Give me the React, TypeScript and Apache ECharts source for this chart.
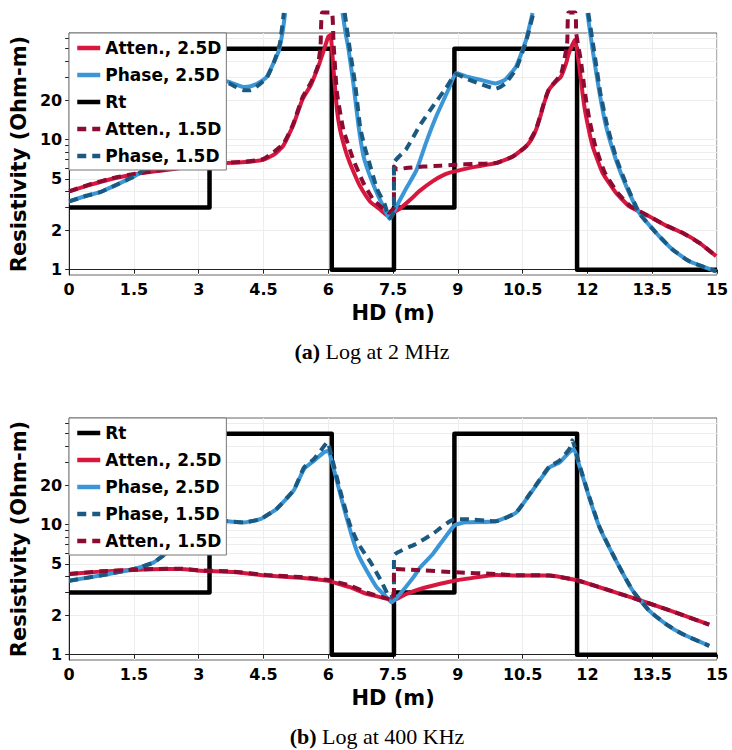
import React, { useEffect, useRef } from "react";
import * as echarts from "echarts";

// ---------- DATA ----------
// Layer boundaries (HD, m) and true resistivity Rt (Ohm-m)
const rtBounds = [0, 3.25, 6.08, 7.52, 8.92, 11.76, 15];
const rtValues = [3, 50, 1, 3, 50, 1];

const xTicks = [0, 1.5, 3, 4.5, 6, 7.5, 9, 10.5, 12, 13.5, 15];
const yLabelValues = [1, 2, 5, 10, 20];
const yGridValues = [1, 2, 3, 4, 5, 6, 7, 8, 9, 10, 20, 30, 40, 50, 60];

// (a) 2 MHz
const atten25_2MHz: (number | null)[][] = [
  [0, 4.0], [0.5, 4.5], [1.0, 5.0], [1.5, 5.4], [2.0, 5.7], [2.5, 6.0], [3.0, 6.3], [3.5, 6.6],
  [4.0, 6.7], [4.5, 7.0], [4.75, 7.7], [4.95, 8.9], [5.18, 12.7], [5.4, 20.3], [5.6, 26.5],
  [5.8, 39], [5.9, 49], [6.0, 62], [6.05, 64], [6.12, 35], [6.2, 17], [6.27, 12], [6.4, 8.2],
  [6.5, 6.6], [6.62, 5.3], [6.74, 4.35], [6.97, 3.33], [7.2, 2.9], [7.38, 2.6], [7.5, 2.75],
  [7.66, 2.95], [7.96, 3.6], [8.1, 4.0], [8.42, 4.8], [8.7, 5.4], [8.92, 5.7], [9.42, 6.2],
  [9.88, 6.6], [10.27, 7.4], [10.58, 8.9], [10.7, 10], [10.81, 11.9], [10.92, 15.5], [11.0, 19.2],
  [11.11, 24.2], [11.25, 27.5], [11.39, 30.6], [11.5, 38], [11.57, 46], [11.71, 58.5],
  [11.81, 36.7], [11.9, 21], [11.97, 15], [12.12, 8.9], [12.35, 5.56], [12.66, 3.9],
  [12.97, 3.07], [13.43, 2.57], [13.8, 2.2], [14.2, 1.92], [14.6, 1.6], [14.98, 1.27],
];
const phase25_2MHz: (number | null)[][] = [
  [0, 3.35], [0.4, 3.7], [0.72, 3.95], [1.1, 4.5], [1.5, 5.2], [1.75, 5.9], [2.0, 7.0], [2.4, 10],
  [2.8, 15], [3.1, 22], [3.3, 27], [3.43, 29], [3.66, 28], [4.04, 25.4], [4.2, 25.7], [4.4, 27.5],
  [4.58, 30.6], [4.72, 38], [4.86, 49], [4.95, 70], [5.0, 94], [5.05, null],
  [6.33, 94], [6.4, 66], [6.47, 49], [6.58, 27], [6.7, 12.7], [6.81, 7.6], [6.9, 6.0], [7.0, 4.9],
  [7.16, 3.66], [7.31, 2.9], [7.42, 2.45], [7.58, 3.07], [7.8, 4.2], [8.04, 5.8], [8.26, 9.4],
  [8.5, 15.1], [8.8, 25], [8.96, 32.5], [9.19, 30.6], [9.49, 29], [9.88, 27], [10.1, 29],
  [10.35, 36.6], [10.58, 58.5], [10.73, 94], [10.78, null],
  [12.0, 94], [12.12, 49], [12.28, 22.8], [12.43, 12.7], [12.66, 7.0], [12.9, 4.37],
  [13.2, 2.73], [13.59, 1.92], [13.97, 1.43], [14.36, 1.16], [14.98, 0.97],
];
const atten15_2MHz: (number | null)[][] = [
  [0, 4.0], [0.5, 4.55], [1.0, 5.05], [1.5, 5.45], [2.0, 5.75], [2.5, 6.05], [3.0, 6.35], [3.5, 6.6],
  [4.0, 6.75], [4.5, 7.1], [4.95, 9.2], [5.18, 13], [5.4, 21], [5.6, 27.5], [5.75, 36], [5.82, 52],
  [5.86, 95], [6.08, 95], [6.12, 56], [6.2, 23], [6.35, 11.9], [6.58, 7.0], [6.81, 4.66],
  [7.04, 3.46], [7.27, 2.95], [7.4, 2.75], [7.52, 3.0], [7.52, 6.2], [7.6, 5.9], [7.8, 6.05],
  [8.2, 6.2], [8.6, 6.3], [8.92, 6.4], [9.4, 6.5], [9.88, 6.6], [10.27, 7.4], [10.58, 8.9],
  [10.81, 12], [11.0, 19.5], [11.11, 24.5], [11.39, 32], [11.53, 55], [11.56, 95], [11.72, 95],
  [11.74, 66], [11.85, 40], [11.95, 22], [12.05, 14], [12.18, 9], [12.4, 5.6], [12.7, 3.9],
  [13.0, 3.07], [13.43, 2.57], [13.8, 2.2], [14.2, 1.92], [14.6, 1.6], [14.98, 1.27],
];
const phase15_2MHz: (number | null)[][] = [
  [0, 3.35], [0.4, 3.7], [0.72, 3.95], [1.1, 4.5], [1.5, 5.2], [1.75, 5.9], [2.0, 7.0], [2.4, 10],
  [2.8, 15], [3.1, 22], [3.3, 27], [3.43, 28.5], [3.7, 27], [4.04, 24], [4.2, 24], [4.4, 26.5],
  [4.58, 30], [4.75, 40], [4.88, 55], [4.97, 94], [5.02, null],
  [6.38, 94], [6.5, 49], [6.62, 27], [6.74, 12.3], [6.85, 8.6], [6.93, 7.0], [7.12, 4.25],
  [7.31, 3.16], [7.39, 2.57], [7.45, 2.5], [7.52, 2.9], [7.52, 6.6], [7.8, 8.4], [8.11, 12.7],
  [8.42, 18], [8.73, 25], [8.96, 32], [9.19, 29.5], [9.49, 27], [9.88, 24.6], [10.1, 27],
  [10.35, 35], [10.58, 57], [10.75, 94], [10.8, null],
  [12.02, 94], [12.15, 49], [12.3, 22.8], [12.46, 12.7], [12.68, 7.0], [12.92, 4.37],
  [13.2, 2.73], [13.59, 1.92], [13.97, 1.43], [14.36, 1.16], [14.98, 0.97],
];

// (b) 400 KHz
const atten25_400k: (number | null)[][] = [
  [0, 4.17], [0.72, 4.35], [1.5, 4.48], [1.95, 4.53], [2.57, 4.56], [3.03, 4.42], [3.8, 4.32],
  [4.57, 4.06], [5.35, 3.9], [6.0, 3.7], [6.12, 3.6], [6.5, 3.3], [6.89, 2.93], [7.28, 2.73],
  [7.51, 2.63], [7.81, 2.93], [8.13, 3.2], [8.5, 3.45], [8.92, 3.7], [9.42, 3.93], [9.88, 4.1],
  [10.35, 4.06], [11.12, 4.06], [11.73, 3.75], [12.28, 3.3], [13.05, 2.73], [13.82, 2.24],
  [14.82, 1.7],
];
const phase25_400k: (number | null)[][] = [
  [0, 3.7], [0.72, 4.06], [1.5, 4.56], [1.95, 5.1], [2.3, 6.2], [2.7, 7.8], [3.0, 9.2], [3.3, 10.4],
  [3.47, 10.85], [3.66, 10.6], [4.04, 10.4], [4.42, 11.0], [4.8, 13.2], [5.2, 18.3], [5.44, 26.8],
  [5.67, 31], [5.9, 36], [6.0, 37], [6.1, 29], [6.3, 16], [6.45, 10.5], [6.58, 7.5], [6.7, 5.8],
  [6.89, 4.42], [7.12, 3.3], [7.35, 2.76], [7.47, 2.52], [7.66, 2.93], [7.97, 3.93], [8.13, 4.7],
  [8.42, 5.95], [8.92, 9.85], [9.19, 10.4], [9.88, 10.6], [10.35, 12.4], [10.73, 18.3],
  [11.12, 27.5], [11.35, 30], [11.58, 36], [11.69, 38], [11.8, 29.3], [12.04, 16.2], [12.28, 9.5],
  [12.66, 5.3], [13.05, 3.1], [13.43, 2.18], [13.82, 1.72], [14.2, 1.44], [14.82, 1.17],
];
const phase15_400k: (number | null)[][] = [
  [0, 3.7], [0.72, 4.06], [1.5, 4.56], [1.95, 5.1], [2.3, 6.2], [2.7, 7.8], [3.0, 9.2], [3.3, 10.4],
  [3.47, 10.85], [3.66, 10.6], [4.04, 10.4], [4.42, 11.0], [4.8, 13.2], [5.2, 18.5], [5.44, 27.5],
  [5.67, 32], [5.9, 40], [5.98, 43], [6.1, 31], [6.3, 17], [6.5, 10], [6.7, 7.1], [7.0, 5.0],
  [7.24, 3.6], [7.43, 2.76], [7.52, 2.9], [7.52, 5.77], [8.03, 7.1], [8.42, 8.5], [8.92, 11],
  [9.19, 11], [9.88, 10.6], [10.35, 12.4], [10.73, 18.5], [11.12, 28], [11.35, 31], [11.58, 38],
  [11.65, 44.5], [11.8, 30], [12.04, 16.5], [12.28, 9.6], [12.66, 5.3], [13.05, 3.1],
  [13.43, 2.18], [13.82, 1.72], [14.2, 1.44], [14.82, 1.17],
];
const atten15_400k: (number | null)[][] = [
  [0, 4.17], [0.72, 4.37], [1.5, 4.5], [1.95, 4.55], [2.57, 4.58], [3.03, 4.45], [3.8, 4.35],
  [4.57, 4.1], [5.35, 3.95], [6.0, 3.75], [6.5, 3.4], [6.89, 3.0], [7.28, 2.75], [7.45, 2.65],
  [7.52, 2.75], [7.52, 4.56], [8.03, 4.48], [8.92, 4.3], [9.88, 4.17], [10.35, 4.08],
  [11.12, 4.06], [11.73, 3.75], [12.28, 3.3], [13.05, 2.73], [13.82, 2.24], [14.82, 1.7],
];

// ---------- STYLE ----------
const C_ATT25 = "#D8173F";
const C_PH25 = "#3A96D6";
const C_ATT15 = "#8C0B33";
const C_PH15 = "#1C5980";
const FONT = "DejaVu Sans";

const Y_MIN = Math.log10(0.91);
const Y_MAX = Math.log10(66);

const toLog = (pts: (number | null)[][]) =>
  pts.map(([x, y]) => [x, y == null ? "-" : Math.log10(y as number)]);

const stepPts = (b: number[], v: number[]) => {
  const out: number[][] = [];
  v.forEach((val, i) => {
    out.push([b[i], val]);
    out.push([b[i + 1], val]);
  });
  return out;
};

const line = (name: string, data: any[], gi: number, color: string, dashed: boolean, width = 4, smooth: any = 0.15) => ({
  type: "line",
  name,
  xAxisIndex: gi,
  yAxisIndex: gi,
  data,
  symbol: "none",
  smooth,
  clip: false,
  z: dashed ? 4 : 3,
  lineStyle: { color, width, type: dashed ? [9, 6] : "solid", cap: "butt", join: "round" },
  itemStyle: { color },
  emphasis: { disabled: true },
});

const gridTops = [33, 418];

const makeX = (gi: number) => ({
  type: "value",
  gridIndex: gi,
  min: 0,
  max: 15,
  interval: 1.5,
  name: "HD (m)",
  nameLocation: "middle",
  nameGap: 27,
  nameTextStyle: { fontFamily: FONT, fontWeight: "bold", fontSize: 21, color: "#000" },
  axisLine: { show: true, lineStyle: { color: "#222", width: 1 } },
  axisTick: { show: true, length: 4, lineStyle: { color: "#222" } },
  axisLabel: { fontFamily: FONT, fontWeight: "bold", fontSize: 16, color: "#000", margin: 6 },
  splitLine: { show: true, lineStyle: { color: "#ededed", width: 1 } },
});

const makeY = (gi: number) => ({
  type: "value",
  gridIndex: gi,
  min: Y_MIN,
  max: Y_MAX,
  name: "Resistivity (Ohm-m)",
  nameLocation: "middle",
  nameGap: 32,
  nameTextStyle: { fontFamily: FONT, fontWeight: "bold", fontSize: 21, color: "#000" },
  axisLine: { show: true, lineStyle: { color: "#222", width: 1 } },
  axisTick: {
    show: true,
    length: 4,
    lineStyle: { color: "#222" },
    customValues: yGridValues.map((v) => Math.log10(v)),
  },
  axisLabel: {
    fontFamily: FONT,
    fontWeight: "bold",
    fontSize: 16,
    color: "#000",
    margin: 7,
    customValues: yLabelValues.map((v) => Math.log10(v)),
    formatter: (v: number) => String(Math.round(Math.pow(10, v))),
  },
  splitLine: { show: true, lineStyle: { color: "#ededed", width: 1 } },
});

const makeLegend = (gi: number, names: string[]) => ({
  orient: "vertical",
  left: 69,
  top: gridTops[gi],
  data: names,
  backgroundColor: "#fff",
  borderColor: "#777",
  borderWidth: 1,
  borderRadius: 0,
  padding: [5, 5, 4, 6],
  itemGap: 7,
  itemWidth: 23,
  itemHeight: 14,
  selectedMode: false,
  itemStyle: { opacity: 0, borderWidth: 0 },
  lineStyle: { width: 4.5, cap: "butt" },
  textStyle: { fontFamily: FONT, fontWeight: "bold", fontSize: 17, color: "#000", lineHeight: 20 },
  z: 10,
});

export default function App() {
  const ref = useRef<HTMLDivElement>(null);
  useEffect(() => {
    if (!ref.current) return;
    const chart = echarts.init(ref.current, undefined, { renderer: "svg" });
    const rt = stepPts(rtBounds, rtValues);
    const rtLog = toLog(rt);
    const option: any = {
      animation: false,
      backgroundColor: "#fff",
      grid: gridTops.map((t) => ({
        left: 69,
        width: 648,
        top: t,
        height: 242,
        show: true,
        borderColor: "#666",
        borderWidth: 1,
        backgroundColor: "transparent",
      })),
      xAxis: [makeX(0), makeX(1)],
      yAxis: [makeY(0), makeY(1)],
      legend: [
        makeLegend(0, ["Atten., 2.5D", "Phase, 2.5D", "Rt", "Atten., 1.5D", "Phase, 1.5D"]),
        makeLegend(1, ["Rt", "Atten., 2.5D", "Phase, 2.5D", "Phase, 1.5D", "Atten., 1.5D"]),
      ],
      series: [
        line("Rt", rtLog, 0, "#000", false, 4.5, false),
        line("Atten., 2.5D", toLog(atten25_2MHz), 0, C_ATT25, false),
        line("Phase, 2.5D", toLog(phase25_2MHz), 0, C_PH25, false),
        line("Atten., 1.5D", toLog(atten15_2MHz), 0, C_ATT15, true),
        line("Phase, 1.5D", toLog(phase15_2MHz), 0, C_PH15, true),
        line("Rt", rtLog, 1, "#000", false, 4.5, false),
        line("Atten., 2.5D", toLog(atten25_400k), 1, C_ATT25, false),
        line("Phase, 2.5D", toLog(phase25_400k), 1, C_PH25, false),
        line("Phase, 1.5D", toLog(phase15_400k), 1, C_PH15, true),
        line("Atten., 1.5D", toLog(atten15_400k), 1, C_ATT15, true),
      ],
      graphic: [
        {
          type: "text",
          x: 372,
          y: 351,
          style: {
            text: "{b|(a)} Log at 2 MHz",
            fontFamily: "Liberation Serif",
            fontSize: 22,
            fill: "#000",
            align: "center",
            verticalAlign: "middle",
            rich: { b: { fontFamily: "Liberation Serif", fontSize: 22, fontWeight: "bold", fill: "#000" } },
          },
        },
        {
          type: "text",
          x: 377,
          y: 736,
          style: {
            text: "{b|(b)} Log at 400 KHz",
            fontFamily: "Liberation Serif",
            fontSize: 22,
            fill: "#000",
            align: "center",
            verticalAlign: "middle",
            rich: { b: { fontFamily: "Liberation Serif", fontSize: 22, fontWeight: "bold", fill: "#000" } },
          },
        },
      ],
    };
    chart.setOption(option);
    return () => chart.dispose();
  }, []);
  return (
    <div
      ref={ref}
      style={{ position: "absolute", left: 0, top: 0, width: 732, height: 750, background: "#fff" }}
    />
  );
}
